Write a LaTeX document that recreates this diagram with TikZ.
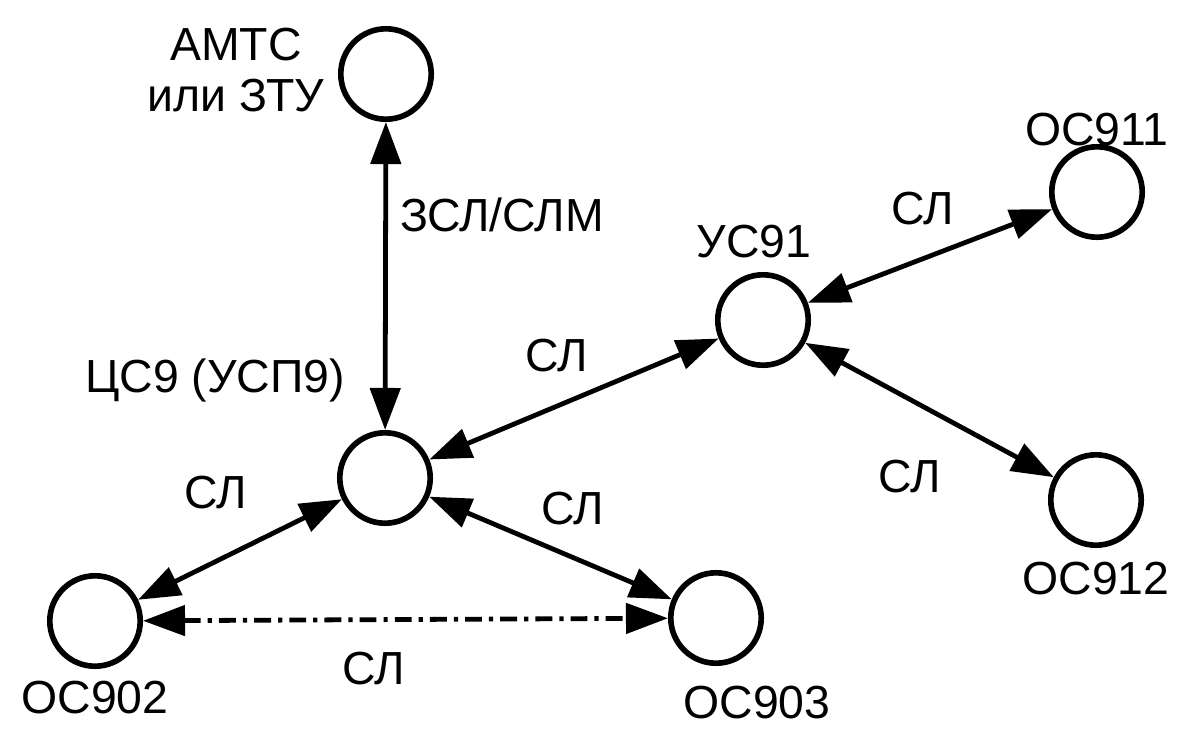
\documentclass[tikz,border=0pt]{standalone}
\usepackage{fontspec}
\setmainfont{Liberation Sans}
\usetikzlibrary{arrows.meta}
\tikzset{
	stn/.style={circle, draw, line width=4pt, minimum size=2.26cm, inner sep=0pt},
	txt/.style={font=\fontsize{33}{36}\selectfont, inner sep=0.1cm},
	link/.style={<->, line width=3.4pt, >={Triangle[length=1.05cm, width=0.75cm]}},
}

\begin{document}
\begin{tikzpicture}[x=0.025cm, y=-0.025cm]
	\useasboundingbox (0,0) rectangle (1192,731);

	\node[stn] (amts) at (386, 74) {};
	\node[stn] (cs9) at (385, 478) {};
	\node[stn] (us91) at (763, 320) {};
	\node[stn] (os911) at (1097, 192) {};
	\node[stn] (os912) at (1096, 500) {};
	\node[stn] (os902) at (95, 621) {};
	\node[stn] (os903) at (716, 618) {};

	\node[txt, align=center] (amtslbl) at (236, 70) {АМТС\\или ЗТУ};
	\node[txt] (cs9lbl) at (215, 380) {ЦС9 (УСП9)};
	\node[txt] (us91lbl) at (754, 242) {УС91};
	\node[txt] (os911lbl) at (1097, 130) {ОС911};
	\node[txt] (os912lbl) at (1096, 579) {ОС912};
	\node[txt] (os902lbl) at (95, 698) {ОС902};
	\node[txt] (os903lbl) at (757, 703) {ОС903};

	\draw[link] (amts) -- node[txt, pos=0.3, right=0.2cm] (zsl) {ЗСЛ/СЛМ} (cs9);
	\draw[link] (cs9) -- node[txt, pos=0.44, above=0.7cm] (sl1) {СЛ} (us91);
	\draw[link] (cs9) -- node[txt, pos=0.62, above=1.15cm] (sl2) {СЛ} (os902);
	\draw[link] (cs9) -- node[txt, pos=0.59, above=0.65cm] (sl3) {СЛ} (os903);
	\draw[link, dash pattern=on 12pt off 5pt on 3pt off 5pt] (os902) -- node[txt, pos=0.44, below=0.65cm] (sl4) {СЛ} (os903);
	\draw[link] (us91) -- node[txt, pos=0.47, above=0.68cm] (sl5) {СЛ} (os911);
	\draw[link] (us91) -- node[txt, pos=0.66, below left=0.56cm] (sl6) {СЛ} (os912);
\end{tikzpicture}
\end{document}
